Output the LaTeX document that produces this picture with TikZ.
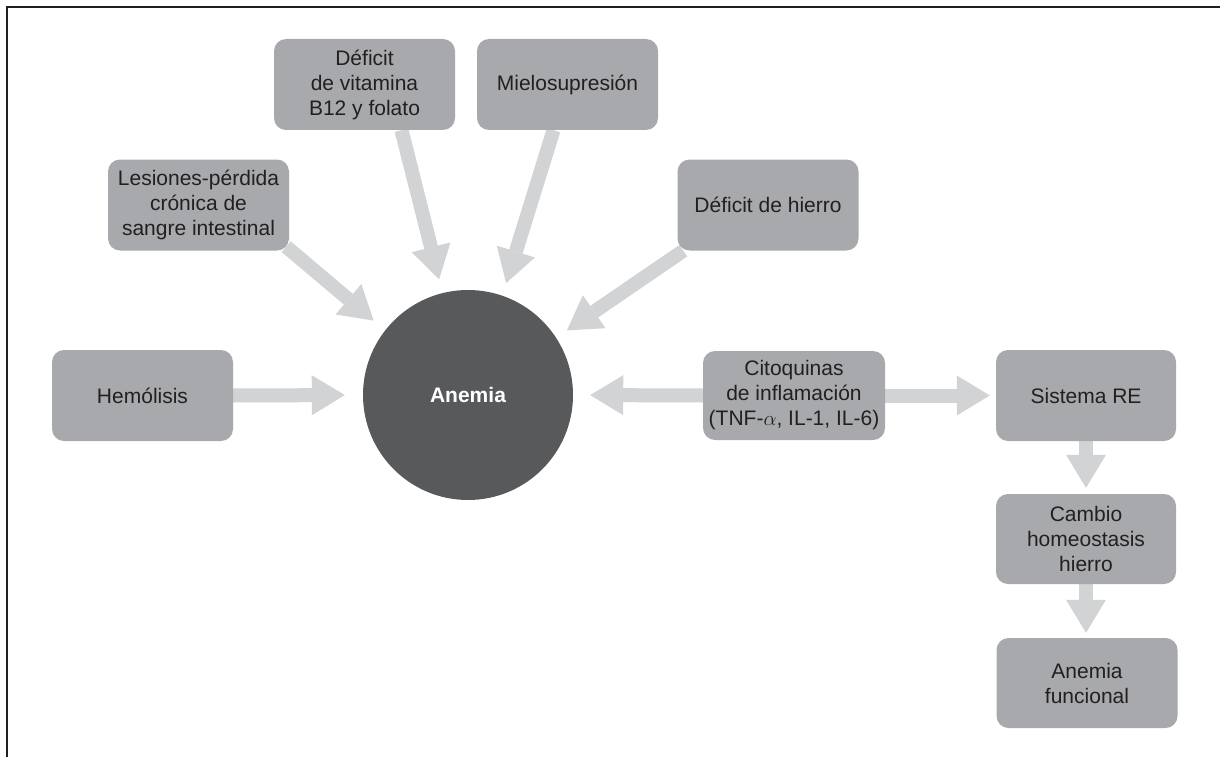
\documentclass[tikz,border=0pt]{standalone}
\usepackage{fontspec}
\setmainfont{Liberation Sans}
\usetikzlibrary{arrows.meta,calc,backgrounds}
\definecolor{boxgray}{HTML}{A7A9AC}
\definecolor{arrgray}{HTML}{D1D3D4}
\definecolor{circgray}{HTML}{58595B}
\definecolor{txt}{HTML}{231F20}
\begin{document}
\begin{tikzpicture}[x=1pt,y=-1pt,
  box/.style={fill=boxgray, rounded corners=12pt, minimum width=181pt, minimum height=91pt,
    inner sep=0pt, align=center, text=txt, font=\fontsize{21}{25}\selectfont},
  conn/.style={draw=arrgray, line width=14pt, -{Triangle[width=40pt,length=33pt,line width=0pt]}}]
\useasboundingbox (0,0) rectangle (1220,757);
\draw[line width=2.5pt, txt] (7,757) -- (7,7) -- (1220,7);

\node[box] (hem) at (142.5,395.5) {Hemólisis};
\node[box] (les) at (198.5,205) {Lesiones-pérdida\\crónica de\\sangre intestinal};
\node[box] (vit) at (364.5,84.5) {Déficit\\de vitamina\\B12 y folato};
\node[box] (mie) at (567.5,84.5) {Mielosupresión};
\node[box] (hie) at (768,205) {Déficit de hierro};
\node[box, minimum width=182pt, minimum height=89pt] (cit) at (794,395.5) {Citoquinas\\de inflamación\\(TNF-$\alpha$, IL-1, IL-6)};
\node[box, minimum width=180pt] (sis) at (1086,395.5) {Sistema RE};
\node[box, minimum width=180pt, minimum height=90pt] (cam) at (1086,539) {Cambio\\homeostasis\\hierro};
\node[box, minimum width=181pt, minimum height=90pt] (fun) at (1087,683) {Anemia\\funcional};
\node[circle, fill=circgray, minimum size=210pt, inner sep=0pt, text=white,
  font=\fontsize{21}{25}\selectfont\bfseries] (anemia) at (468,395) {Anemia};

\begin{scope}[on background layer]
\draw[conn, shorten >=18pt] (hem.east) -- (anemia.west);
\draw[conn, shorten >=15pt] ($(les.south east)+(-3,-4)$) -- (anemia.142.5);
\draw[conn, shorten >=14pt] ($(vit.south)+(37,0)$) -- (anemia.104.2);
\draw[conn, shorten >=13pt] ($(mie.south)+(-14,0)$) -- (anemia.71.7);
\draw[conn, shorten >=13pt] ($(hie.south west)+(6,0)$) -- (anemia.33.3);
\draw[conn, shorten >=17pt] (cit.west) -- (anemia.east);
\draw[conn, shorten >=6pt] (cit.east) -- (sis.west);
\draw[conn, shorten >=6pt] (sis.south) -- (cam.north);
\draw[conn, shorten >=5pt] (cam.south) -- ($(fun.north)+(-1,0)$);
\end{scope}
\end{tikzpicture}
\end{document}
